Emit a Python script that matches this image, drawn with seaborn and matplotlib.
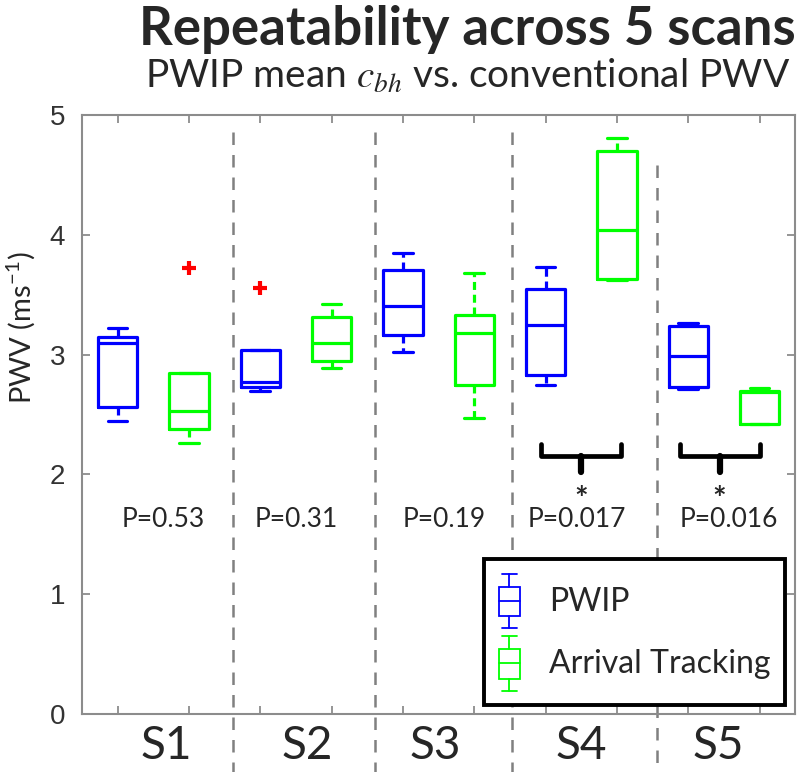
import numpy as np
import pandas as pd
import seaborn as sns
import matplotlib.pyplot as plt
from matplotlib.lines import Line2D
from matplotlib.patches import Patch, Rectangle
from matplotlib.legend_handler import HandlerBase

# data (5 values per box)
scans = ["S1", "S2", "S3", "S4", "S5"]
methods = ["PWIP", "Arrival Tracking"]
pwip_values = [
    [2.45, 2.56, 3.10, 3.15, 3.22],
    [2.70, 2.73, 2.77, 3.04, 3.56],
    [3.02, 3.16, 3.41, 3.71, 3.85],
    [2.75, 2.83, 3.25, 3.55, 3.73],
    [2.71, 2.73, 2.99, 3.24, 3.26],
]
arrival_values = [
    [2.26, 2.38, 2.53, 2.85, 3.72],
    [2.89, 2.95, 3.10, 3.31, 3.42],
    [2.47, 2.75, 3.18, 3.33, 3.68],
    [3.62, 3.63, 4.04, 4.70, 4.81],
    [2.42, 2.42, 2.69, 2.70, 2.72],
]
p_labels = ["P=0.53", "P=0.31", "P=0.19", "P=0.017", "P=0.016"]
significant = [False, False, False, True, True]

rows = []
for s, pv, av in zip(scans, pwip_values, arrival_values):
    for v in pv:
        rows.append((s, methods[0], v))
    for v in av:
        rows.append((s, methods[1], v))
df = pd.DataFrame(rows, columns=["scan", "method", "pwv"])

sns.set_style("white")
plt.rcParams["font.family"] = ["Lato", "DejaVu Sans"]
plt.rcParams["mathtext.fontset"] = "custom"
plt.rcParams["mathtext.rm"] = "Lato"
plt.rcParams["mathtext.it"] = "STIXGeneral:italic"
plt.rcParams["mathtext.fallback"] = "stix"

palette = {"PWIP": "#0000ff", "Arrival Tracking": "#00ff00"}
grey = "#8c8c8c"

fig = plt.figure(figsize=(8, 7.72), dpi=100)
ax = fig.add_axes([0.1025, 0.0751, 0.8915, 0.7759])

sns.boxplot(data=df, x="scan", y="pwv", hue="method", palette=palette,
            fill=False, width=1.0, gap=0.45, linewidth=2.3, whis=1.5,
            whiskerprops=dict(linestyle=(0, (2.5, 1.5))),
            flierprops=dict(marker="+", markeredgecolor="red", markersize=10, markeredgewidth=3),
            legend=False, ax=ax)

ax.set_xlim(-0.5, 4.5)
ax.set_ylim(0, 5)
ax.set_xlabel("")
ax.set_ylabel("PWV (ms$^{-1}$)", fontsize=21)
ax.yaxis.label.set_va("center")
ax.yaxis.set_label_coords(-0.0855, 0.645)

# tick layout
label_shift = [0.09, 0.08, -0.02, 0.0, -0.04]
ax.set_xticks(np.arange(5) + np.array(label_shift), labels=scans)
ax.set_xticks(np.concatenate([np.arange(5) - 0.25, np.arange(5) + 0.25]), minor=True)
ax.tick_params(axis="x", which="major", length=0, labelsize=33, pad=8)
ax.tick_params(axis="x", which="minor", direction="in", top=True, bottom=True, length=6, color=grey, width=1.3)
ax.set_yticks([0, 1, 2, 3, 4, 5])
ax.tick_params(axis="y", direction="in", left=True, right=True, length=6, color=grey, width=1.3,
               labelsize=20, labelcolor="#333333", pad=12)
for lab in ax.get_yticklabels():
    lab.set_family(["Liberation Sans", "DejaVu Sans"])
for sp in ax.spines.values():
    sp.set_color(grey)
    sp.set_linewidth(1.5)

# dashed separators between scans
sep_x = [0.56, 1.555, 2.515, 3.53]
sep_top = [4.86, 4.86, 4.86, 4.58]
for x, t in zip(sep_x, sep_top):
    ax.plot([x, x], [t, -0.5], color="#808080", lw=1.8, ls=(0, (5, 4)), clip_on=False, zorder=1)

# p-values and significance braces
p_x = [0.07, 1.0, 2.04, 2.97, 4.035]
for i, (lab, sig) in enumerate(zip(p_labels, significant)):
    ax.text(p_x[i], 1.62, lab, ha="center", va="center", fontsize=19)
    if sig:
        c = i if i < 4 else 3.97
        xs = [c - 0.28, c - 0.28, c + 0.28, c + 0.28]
        ax.plot(xs, [2.25, 2.15, 2.15, 2.25], color="black", lw=3.4, solid_joinstyle="round",
                solid_capstyle="round")
        ax.plot([c, c], [2.15, 2.02], color="black", lw=4.5)
        ax.text(c, 1.78, "*", ha="center", va="center", fontsize=23, fontweight="bold")


class BoxHandler(HandlerBase):
    def create_artists(self, legend, orig_handle, xdescent, ydescent, width, height, fontsize, trans):
        c = orig_handle.get_edgecolor()
        cx = -xdescent + width / 2
        y0 = -ydescent
        bw = width * 0.95
        cw = width * 0.65
        lo, hi = y0 + 0.22 * height, y0 + 0.76 * height
        arts = [
            Line2D([cx, cx], [y0, lo]),
            Line2D([cx, cx], [hi, y0 + height]),
            Line2D([cx - cw / 2, cx + cw / 2], [y0, y0]),
            Line2D([cx - cw / 2, cx + cw / 2], [y0 + height, y0 + height]),
            Line2D([cx - bw / 2, cx + bw / 2], [y0 + 0.5 * height] * 2),
        ]
        for a in arts:
            a.set_color(c)
            a.set_linewidth(1.3)
        arts.append(Rectangle((cx - bw / 2, lo), bw, hi - lo, fill=False, edgecolor=c, lw=1.3))
        for a in arts:
            a.set_transform(trans)
        return arts


handles = [Patch(edgecolor=palette[m], facecolor="none", label=m) for m in methods]
leg = ax.legend(handles=handles, handler_map={Patch: BoxHandler()}, loc="lower right",
                bbox_to_anchor=(0.986, 0.015), borderaxespad=0, fontsize=23,
                handlelength=0.7, handleheight=2.25, labelspacing=0.25, handletextpad=0.9,
                borderpad=0.45, fancybox=False, framealpha=1)
leg.get_frame().set_edgecolor("black")
leg.get_frame().set_linewidth(2.8)

fig.text(0.584, 0.962, "Repeatability across 5 scans", ha="center", va="center",
         fontsize=38, fontweight="bold")
fig.text(0.584, 0.902, "PWIP mean $c_{bh}$ vs. conventional PWV", ha="center", va="center",
         fontsize=28)

fig.savefig("out.png", dpi=100)
